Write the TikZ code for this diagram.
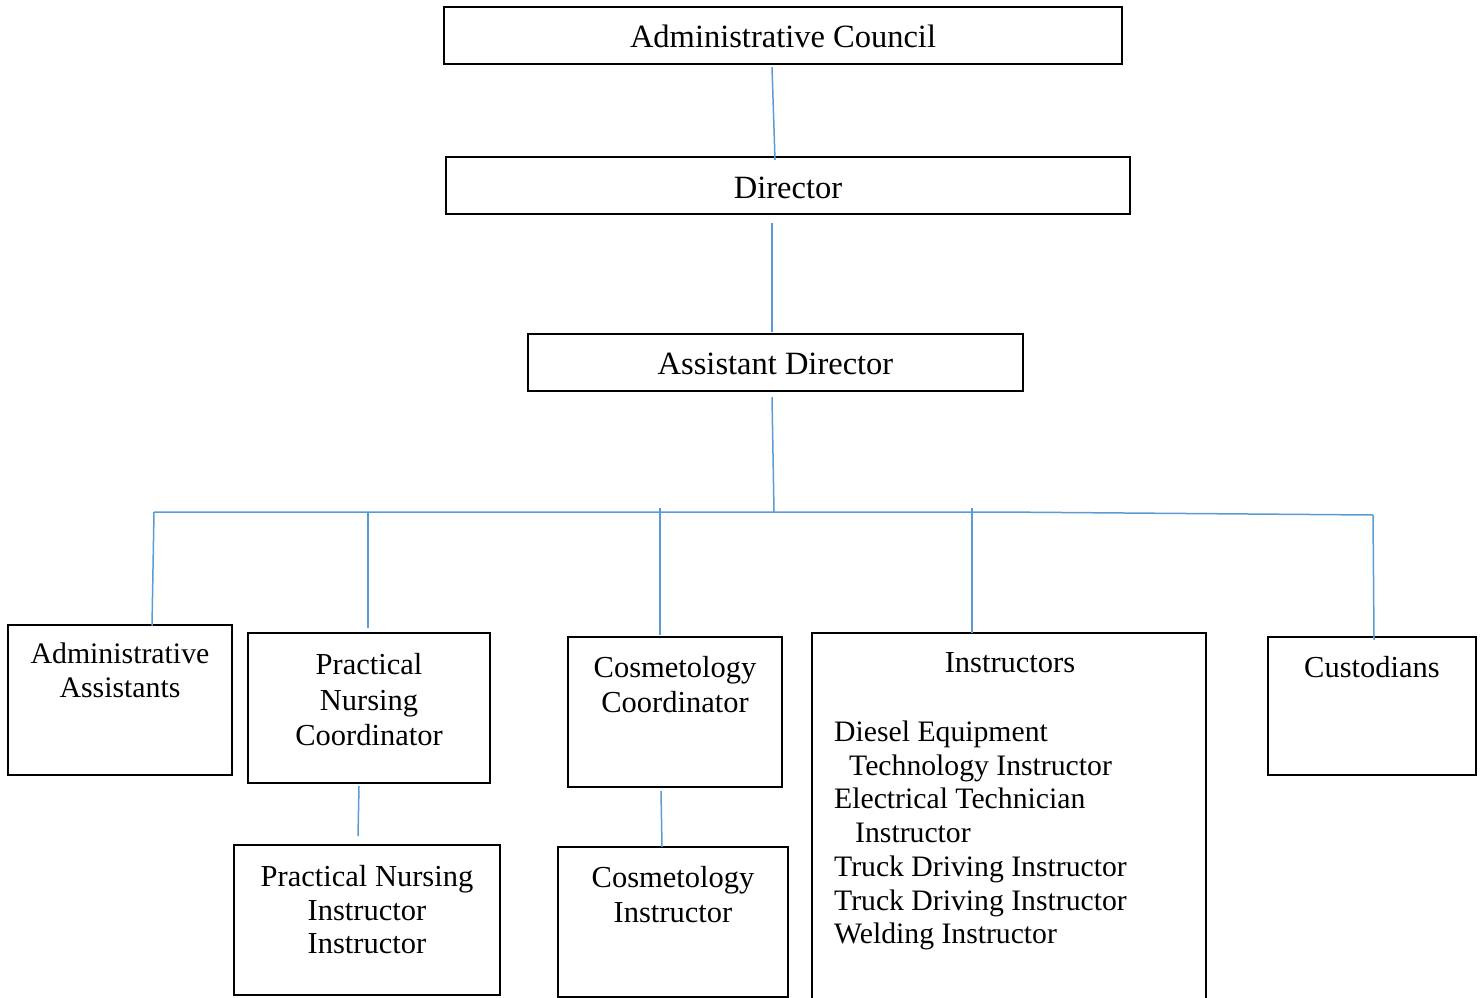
\documentclass[tikz,border=0pt]{standalone}
\usepackage{fontspec}
\setmainfont{Liberation Serif}
\definecolor{linkblue}{RGB}{91,155,213}
\begin{document}
\begin{tikzpicture}[x=1pt,y=-1pt,
  box/.style={draw=black, line width=2.4pt, rectangle, inner sep=0pt},
  link/.style={draw=linkblue, line width=1.5pt},
  big/.style={font=\fontsize{32.5}{36}\selectfont, inner sep=0pt, anchor=base},
  mid/.style={font=\fontsize{30.5}{34}\selectfont, inner sep=0pt, align=center, anchor=north},
]
\useasboundingbox (0,0) rectangle (1483,998);
\clip (0,0) rectangle (1483,998);

% ---- boxes ----
\node[box, minimum width=678pt, minimum height=57pt] (ac)  at (783,35.5)  {};
\node[box, minimum width=684pt, minimum height=57pt] (dir) at (788,185.5) {};
\node[box, minimum width=495pt, minimum height=57pt] (ad)  at (775.5,362.5) {};
\node[box, minimum width=224pt, minimum height=150pt] (aa)  at (120,700) {};
\node[box, minimum width=242pt, minimum height=150pt] (pnc) at (369,708) {};
\node[box, minimum width=214pt, minimum height=150pt] (cc)  at (675,712) {};
\node[box, minimum width=394pt, minimum height=377pt] (ins) at (1009,821.5) {};
\node[box, minimum width=208pt, minimum height=138pt] (cu)  at (1372,706) {};
\node[box, minimum width=266pt, minimum height=150pt] (pni) at (367,920) {};
\node[box, minimum width=230pt, minimum height=150pt] (ci)  at (673,922) {};

% ---- texts ----
\node[big] (ac-t)  at (783,48)  {Administrative Council};
\node[big] (dir-t) at (788,198) {Director};
\node[big] (ad-t)  at (775.5,374) {Assistant Director};
\node[mid, font=\fontsize{29.8}{34}\selectfont] (aa-t)  at (120,642.6) {Administrative\\Assistants};
\node[mid, font=\fontsize{30.5}{35.5}\selectfont] (pnc-t) at (369,653.2) {Practical\\Nursing\\Coordinator};
\node[mid, font=\fontsize{30.5}{35}\selectfont] (cc-t) at (675,656.2) {Cosmetology\\Coordinator};
\node[mid, anchor=base] (ins-t) at (1010,672) {Instructors};
\node[mid, align=left, anchor=north west, font=\fontsize{29.7}{33.7}\selectfont] (ins-l) at (834,720.7)
  {Diesel Equipment\\\hspace*{15pt}Technology Instructor\\Electrical Technician\\\hspace*{21pt}Instructor\\Truck Driving Instructor\\Truck Driving Instructor\\Welding Instructor};
\node[mid, anchor=base] (cu-t) at (1372,677) {Custodians};
\node[mid, font=\fontsize{30.5}{33.5}\selectfont] (pni-t) at (367,865.2) {Practical Nursing\\Instructor\\Instructor};
\node[mid, font=\fontsize{30.5}{35}\selectfont] (ci-t) at (673,866.2) {Cosmetology\\Instructor};

% ---- bus points ----
\coordinate (bl)   at (154,512);
\coordinate (jpn)  at (368,512);
\coordinate (jcc)  at (660,508);
\coordinate (jm)   at (774,512);
\coordinate (jins) at (972,508);
\coordinate (bk)   at (1000,512);
\coordinate (br)   at (1373,515);

% ---- connectors ----
\draw[link] ([xshift=-11pt,yshift=-2pt]ac.south) -- ([xshift=-13pt,yshift=-4pt]dir.north);
\draw[link] ([xshift=-16pt,yshift=-8pt]dir.south) -- ([xshift=-3.5pt,yshift=1pt]ad.north);
\draw[link] ([xshift=-3.5pt,yshift=-5pt]ad.south) -- (jm);
\draw[link] (bl) -- (bk) -- (br);
\draw[link] (bl) -- ([xshift=32pt,yshift=-2pt]aa.north);
\draw[link] (jpn) -- ([xshift=-1pt,yshift=4pt]pnc.north);
\draw[link] (jcc) -- ([xshift=-15pt,yshift=1pt]cc.north);
\draw[link] (jins) -- ([xshift=-37pt,yshift=-1pt]ins.north);
\draw[link] (br) -- ([xshift=2pt,yshift=-4pt]cu.north);
\draw[link] ([xshift=-10pt,yshift=-2pt]pnc.south) -- ([xshift=-9pt,yshift=8pt]pni.north);
\draw[link] ([xshift=-14pt,yshift=-3pt]cc.south) -- ([xshift=-11pt,yshift=-1pt]ci.north);
\end{tikzpicture}
\end{document}
